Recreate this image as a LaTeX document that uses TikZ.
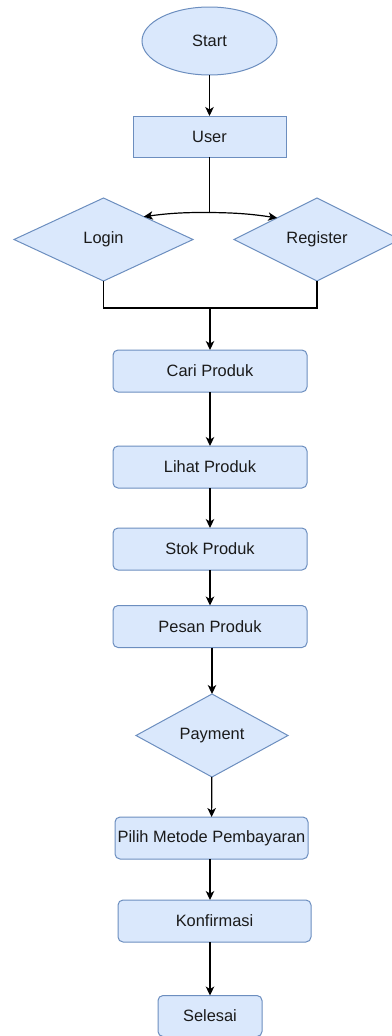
\documentclass[tikz,border=0pt]{standalone}
\usepackage{fontspec}
\setmainfont{Liberation Sans}
\usetikzlibrary{shapes.geometric,arrows.meta,calc}
\definecolor{boxfill}{HTML}{DAE8FC}
\definecolor{boxline}{HTML}{6C8EBF}
\definecolor{txt}{HTML}{1A1A1A}

\begin{document}
\begin{tikzpicture}[x=1pt,y=-1pt,
  base/.style={draw=boxline, fill=boxfill, line width=1pt, inner sep=0pt,
    outer sep=0pt, text=txt, font=\fontsize{16.4}{20}\selectfont},
  terminal/.style={base, ellipse, minimum width=135pt, minimum height=68pt},
  plainbox/.style={base, rectangle, minimum width=153pt, minimum height=41pt},
  roundbox/.style={base, rectangle, rounded corners=5pt,
    minimum width=194pt, minimum height=42pt},
  decision/.style={base, diamond, minimum width=#1, minimum height=83pt},
  decision/.default=179pt,
  link/.style={line width=1.2pt, black},
  arrow/.style={link, -{Stealth[length=9pt,width=8.5pt,inset=2.5pt]}}
]
\useasboundingbox (0,0) rectangle (391,1036);

% process nodes
\node[terminal] (start) at (209.5,41) {Start};
\node[plainbox] (user) at (209.5,136.5) {User};
\node[decision=179pt] (login) at (103.5,239.5) {Login};
\node[decision=166pt] (register) at (317,239.5) {Register};
\node[roundbox] (cari) at (210,371) {Cari Produk};
\node[roundbox] (lihat) at (210,467) {Lihat Produk};
\node[roundbox] (stok) at (210,549) {Stok Produk};
\node[roundbox] (pesan) at (210,626.5) {Pesan Produk};
\node[decision=152pt] (payment) at (212,735.5) {Payment};
\node[roundbox, minimum width=193pt] (pilih) at (211.5,838) {Pilih Metode Pembayaran};
\node[roundbox, minimum width=193pt] (konf) at (214.5,921) {Konfirmasi};
\node[roundbox, minimum width=104pt, minimum height=41pt] (selesai) at (210,1016) {Selesai};

% branch from User to Login / Register
\coordinate (split) at ($(user.south)+(0,55.5)$);
\coordinate (join) at ($(cari.north)+(0,-42)$);

\draw[arrow] (start) -- (user);
\draw[link] (user.south) -- (split);
\draw[arrow] (split) to[bend right=4] ($(login.north)!0.45!(login.east)$);
\draw[arrow] (split) to[bend left=4] ($(register.north)!0.48!(register.west)$);

% merge back into the main flow
\draw[link] (login.south) |- (join) -| (register.south);
\draw[arrow] (join) -- (cari);
\draw[arrow] (cari) -- (lihat);
\draw[arrow] (lihat) -- (stok);
\draw[arrow] (stok) -- (pesan);
\draw[arrow] (pesan.south -| payment.north) -- (payment);
\draw[arrow] (payment) -- (pilih);
\draw[arrow] (pilih.south -| selesai.north) -- (konf.north -| selesai.north);
\draw[arrow] (konf.south -| selesai.north) -- (selesai);
\end{tikzpicture}
\end{document}
